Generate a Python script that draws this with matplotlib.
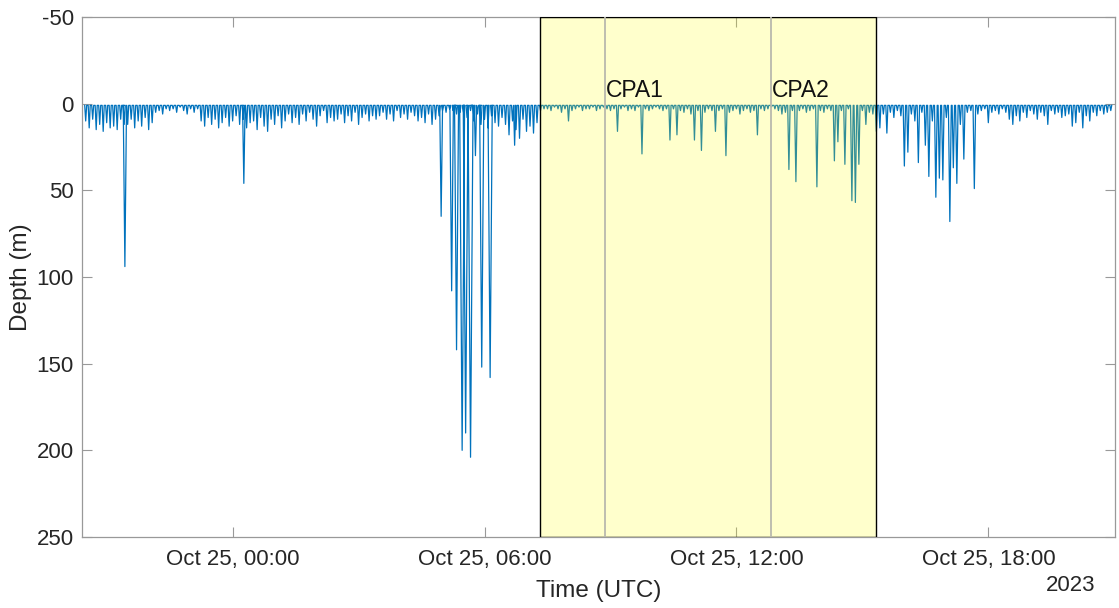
import numpy as np
import pandas as pd
import matplotlib
matplotlib.use('Agg')
import matplotlib.pyplot as plt
import matplotlib.dates as mdates

plt.rcParams['font.family'] = ['Liberation Sans', 'DejaVu Sans']
plt.rcParams['axes.unicode_minus'] = False

# Shallow dives, one max depth (m) every 5 minutes starting 2023-10-24 20:30 UTC
shallow_start = '2023-10-24 20:30'
shallow_step_min = 5
shallow_depths = [
    10, 14, 9, 15, 12, 16, 11, 14, 13, 15, 9, 12,     # 20:30
    12, 9, 14, 10, 13, 8, 15, 11, 5, 4, 6, 3,         # 21:30
    4, 3, 5, 2, 4, 6, 3, 5, 3, 10, 13, 8,             # 22:30
    12, 9, 14, 11, 8, 13, 10, 7, 12, 9, 14, 11,       # 23:30
    10, 15, 8, 13, 16, 9, 12, 7, 14, 10, 6, 11,       # 00:30
    8, 12, 6, 10, 5, 9, 13, 7, 4, 11, 8, 10,          # 01:30
    9, 6, 11, 7, 10, 5, 12, 8, 6, 10, 7, 9,           # 02:30
    7, 5, 9, 6, 10, 4, 8, 6, 9, 5, 7, 10,             # 03:30
    8, 11, 6, 12, 9, 7, 4, 5, 3, 4, 6, 5,             # 04:30
    5, 8, 4, 10, 6, 12, 9, 14, 7, 11, 13, 8,          # 05:30
    12, 18, 10, 15, 20, 9, 16, 13, 17, 11, 4, 3,      # 06:30
    3, 4, 2, 3, 5, 3, 10, 4, 3, 2, 4, 3,              # 07:30
    3, 2, 4, 3, 2, 3, 4, 3, 16, 3, 2, 4,              # 08:30
    3, 4, 2, 29, 3, 4, 3, 2, 3, 4, 3, 21,             # 09:30
    3, 18, 4, 5, 3, 6, 21, 4, 27, 5, 3, 4,            # 10:30
    16, 4, 3, 30, 5, 4, 3, 6, 4, 3, 5, 4,             # 11:30
    18, 3, 4, 3, 2, 3, 4, 6, 5, 38, 4, 45,            # 12:30
    4, 3, 5, 4, 3, 48, 4, 5, 3, 4, 33, 22,            # 13:30
    4, 35, 3, 56, 57, 35, 4, 12, 5, 6, 16, 14,        # 14:30
    6, 17, 5, 8, 4, 7, 36, 28, 6, 10, 34, 5,          # 15:30
    24, 42, 10, 54, 43, 44, 8, 68, 37, 46, 12, 32,    # 16:30
    5, 4, 49, 6, 4, 3, 11, 5, 4, 6, 3, 5,             # 17:30
    9, 12, 7, 10, 5, 8, 4, 6, 9, 5, 7, 12,            # 18:30
    4, 6, 5, 8, 7, 6, 13, 11, 5, 14, 7, 10,           # 19:30
    5, 7, 4, 6, 5, 4,                                 # 20:30
]

# Deeper dives read individually
deep_times = ['2023-10-24 21:26', '2023-10-25 00:16', '2023-10-25 04:58',
              '2023-10-25 05:13', '2023-10-25 05:20', '2023-10-25 05:28',
              '2023-10-25 05:33', '2023-10-25 05:40', '2023-10-25 05:47',
              '2023-10-25 05:56', '2023-10-25 06:08', '2023-10-25 06:43']
deep_depths = [94, 46, 65, 108, 142, 200, 190, 204, 30, 152, 158, 24]

surface_depth = 1.0

span_start = '2023-10-25 07:19'
span_end = '2023-10-25 15:19'
cpa_times = ['2023-10-25 08:52', '2023-10-25 12:49']
cpa_labels = ['CPA1', 'CPA2']

x_start = '2023-10-24 20:24:45'
x_end = '2023-10-25 21:01'
tick_times = ['2023-10-25 00:00', '2023-10-25 06:00', '2023-10-25 12:00', '2023-10-25 18:00']

# Put all dives together, sorted in time
t_shallow = pd.date_range(shallow_start, periods=len(shallow_depths), freq=f'{shallow_step_min}min')
dives = pd.DataFrame({
    't': list(t_shallow) + list(pd.to_datetime(deep_times)),
    'd': shallow_depths + deep_depths,
}).sort_values('t')

# Each dive: surface -> max depth -> surface
t_num = mdates.date2num(dives['t'].dt.to_pydatetime())
half = (1.3 + dives['d'].values / 90.0) / (24 * 60)  # days
xs = np.column_stack([t_num - half, t_num, t_num + half]).ravel()
ys = np.column_stack([np.full(len(t_num), surface_depth), dives['d'].values,
                      np.full(len(t_num), surface_depth)]).ravel()

fig = plt.figure(figsize=(11.19, 6.08), dpi=100)
ax = fig.add_axes([0.0733, 0.1168, 0.9231, 0.8553])

ax.plot(xs, ys, color='#0072BD', linewidth=0.9, zorder=2)

# Highlighted window, drawn over the trace
s0 = mdates.date2num(pd.Timestamp(span_start).to_pydatetime())
s1 = mdates.date2num(pd.Timestamp(span_end).to_pydatetime())
ax.axvspan(s0, s1, facecolor=(1, 1, 0, 0.2), edgecolor='black', linewidth=1.0, zorder=3)

for ct, lab in zip(cpa_times, cpa_labels):
    cx = mdates.date2num(pd.Timestamp(ct).to_pydatetime())
    ax.axvline(cx, color='#b9b9ad', linewidth=1.3, zorder=4)
    ax.text(cx + 1.0 / (24 * 60), -4, lab, fontsize=16.5, color='#111111',
            ha='left', va='baseline', zorder=5)

ax.set_xlim(mdates.date2num(pd.Timestamp(x_start).to_pydatetime()),
            mdates.date2num(pd.Timestamp(x_end).to_pydatetime()))
ax.set_ylim(250, -50)
ax.set_yticks(np.arange(-50, 251, 50))
ax.set_xticks([mdates.date2num(pd.Timestamp(t).to_pydatetime()) for t in tick_times])
ax.xaxis.set_major_formatter(mdates.DateFormatter('%b %d, %H:%M'))

ax.tick_params(direction='in', top=True, right=True, length=7, width=0.8,
               color='#999999', labelcolor='#262626', labelsize=16)
ax.tick_params(axis='x', pad=9)
ax.tick_params(axis='y', pad=6)
for sp in ax.spines.values():
    sp.set_color('#999999')
    sp.set_linewidth(0.9)

ax.set_ylabel('Depth (m)', fontsize=17.5, color='#262626')
ax.yaxis.set_label_coords(-0.048, 0.5)
ax.set_xlabel('Time (UTC)', fontsize=17.5, color='#262626')
ax.xaxis.set_label_coords(0.5, -0.083)
ax.text(0.9807, -0.094, '2023', transform=ax.transAxes, fontsize=16,
        color='#262626', ha='right', va='center')

fig.savefig('out.png', dpi=100)
